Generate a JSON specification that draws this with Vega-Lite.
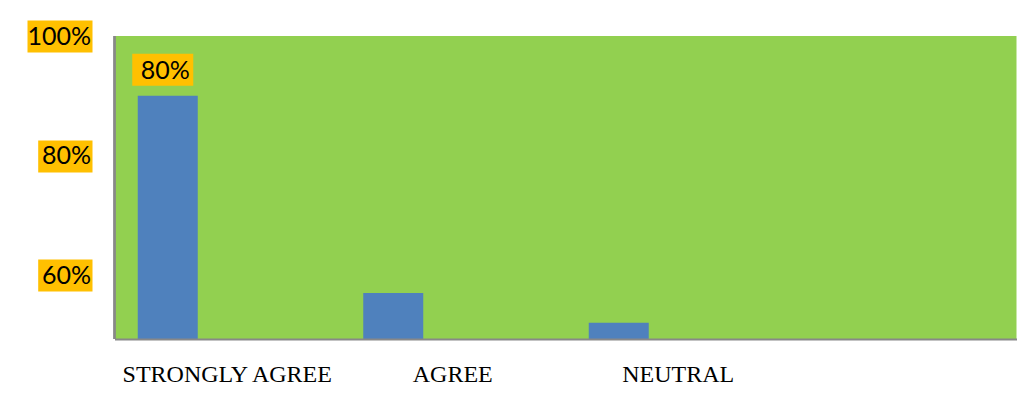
{
  "$schema": "https://vega.github.io/schema/vega-lite/v6.json",
  "width": 902,
  "height": 303,
  "autosize": "none",
  "padding": {"left": 114.5, "top": 36, "right": 18.5, "bottom": 63},
  "background": "white",
  "config": {"view": {"fill": "#92D050", "stroke": null}},
  "data": {
    "values": [
      {"response": "STRONGLY AGREE", "pct": 90, "label": "80%"},
      {"response": "AGREE", "pct": 57},
      {"response": "NEUTRAL", "pct": 52}
    ]
  },
  "layer": [
    {
      "mark": {"type": "bar", "width": 60, "xOffset": -59.5, "color": "#4F81BD", "clip": true},
      "encoding": {
        "x": {
          "field": "response", "type": "nominal", "sort": null,
          "scale": {"domain": ["STRONGLY AGREE", "AGREE", "NEUTRAL", " "], "paddingInner": 0, "paddingOuter": 0},
          "axis": {
            "title": null, "labelAngle": 0, "domainColor": "#888888", "domainWidth": 2,
            "ticks": false, "tickSize": 0, "zindex": 1, "labelLimit": 400,
            "labelFont": "Liberation Serif", "labelFontSize": 24, "labelColor": "black",
            "labelBaseline": "alphabetic", "labelPadding": 42
          }
        },
        "y": {
          "field": "pct", "type": "quantitative",
          "scale": {"domain": [49.3, 100], "zero": false, "nice": false},
          "axis": {
            "title": null, "values": [60, 80, 100], "grid": false, "domain": false,
            "offset": 22.5, "tickColor": "#FFC000", "tickWidth": 32, "tickCap": "butt",
            "tickSize": {"condition": {"test": "datum.value == 100", "value": 65}, "value": 54.3},
            "labelExpr": "datum.value + '%'", "labelFont": "Lato", "labelFontSize": 25,
            "labelColor": "black", "labelAlign": "right", "labelBaseline": "middle",
            "labelPadding": {"condition": {"test": "datum.value == 100", "value": -63.5}, "value": -52.8}
          }
        }
      }
    },
    {
      "mark": {"type": "rule", "color": "#888888", "strokeWidth": 2},
      "encoding": {
        "x": {"datum": "STRONGLY AGREE", "bandPosition": 0}
      }
    },
    {
      "transform": [{"filter": "isValid(datum.label)"}],
      "mark": {
        "type": "point", "shape": "M-1,-0.525H1V0.525H-1Z", "size": 3721,
        "filled": true, "color": "#FFC000", "opacity": 1, "xOffset": -64.5, "yOffset": -26
      },
      "encoding": {
        "x": {"field": "response", "type": "nominal"},
        "y": {"field": "pct", "type": "quantitative"}
      }
    },
    {
      "transform": [{"filter": "isValid(datum.label)"}],
      "mark": {
        "type": "text", "font": "Lato", "fontSize": 25, "color": "black",
        "baseline": "middle", "align": "center", "xOffset": -62, "yOffset": -25
      },
      "encoding": {
        "x": {"field": "response", "type": "nominal"},
        "y": {"field": "pct", "type": "quantitative"},
        "text": {"field": "label"}
      }
    }
  ]
}
